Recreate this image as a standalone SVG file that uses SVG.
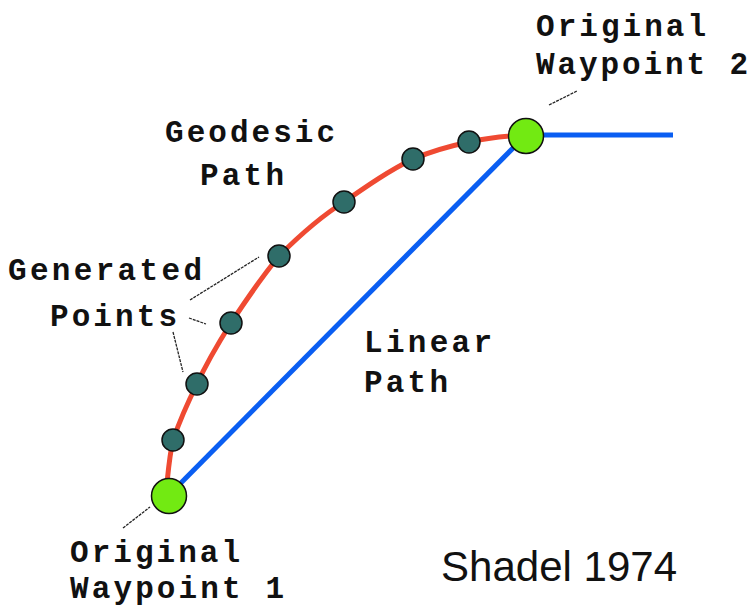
<svg xmlns="http://www.w3.org/2000/svg" width="754" height="608" viewBox="0 0 754 608">
<style>
.lbl{font-family:"Liberation Mono","Courier New",monospace;font-weight:bold;font-size:31px;fill:#111}
.lead{stroke:#222;stroke-width:1.3;fill:none;stroke-dasharray:3 1}
.wp{fill:#72ea12;stroke:#111;stroke-width:1.5}
.gp{fill:#2f6d69;stroke:#111;stroke-width:1.5}
.blue{stroke:#0a5ef2;stroke-width:5;fill:none;stroke-linecap:butt}
.red{stroke:#ef4a32;stroke-width:5;fill:none;stroke-linejoin:round}
</style>
<rect width="754" height="608" fill="#fff"/>
<g id="connectors">
<path class="blue" d="M526 135 H673"/>
<path class="blue" d="M169 495 L526 135"/>
<path class="red" d="M166 492 C168 475 169 458 173 440 C180 420 188 402 197 384 C207 362 219 342 231 323 C246 300 262 277 279 256 C299 236 320 217 344 202 C367 186 390 170 413 159 C432 151 450 146 469 142 C488 138 507 136 526 135"/>
<path class="lead" d="M549 105 L577 91"/>
<path class="lead" d="M123 528 L150 507"/>
<path class="lead" d="M190 300 L259 257"/>
<path class="lead" d="M189 318 L206 324"/>
<path class="lead" d="M173 332 L183 372"/>
</g>
<g id="gen-points">
<circle class="gp" cx="173" cy="440" r="11"/>
<circle class="gp" cx="197" cy="384" r="11"/>
<circle class="gp" cx="231" cy="323" r="11"/>
<circle class="gp" cx="279" cy="256" r="11"/>
<circle class="gp" cx="344" cy="202" r="11"/>
<circle class="gp" cx="413" cy="159" r="11"/>
<circle class="gp" cx="469" cy="142" r="11"/>
</g>
<g id="waypoint1">
<circle class="wp" cx="169" cy="496" r="17.5"/>
<text class="lbl" x="70" y="562" textLength="170" lengthAdjust="spacing">Original</text>
<text class="lbl" x="70" y="598" textLength="214" lengthAdjust="spacing">Waypoint 1</text>
</g>
<g id="waypoint2">
<circle class="wp" cx="526" cy="136" r="17.5"/>
<text class="lbl" x="536" y="36" textLength="170" lengthAdjust="spacing">Original</text>
<text class="lbl" x="536" y="74" textLength="212" lengthAdjust="spacing">Waypoint 2</text>
</g>
<g id="geodesic-label">
<text class="lbl" x="165" y="142" textLength="170" lengthAdjust="spacing">Geodesic</text>
<text class="lbl" x="200" y="185" textLength="84" lengthAdjust="spacing">Path</text>
</g>
<g id="generated-label">
<text class="lbl" x="8" y="280" textLength="194" lengthAdjust="spacing">Generated</text>
<text class="lbl" x="50" y="326" textLength="127" lengthAdjust="spacing">Points</text>
</g>
<g id="linear-label">
<text class="lbl" x="364" y="352" textLength="128" lengthAdjust="spacing">Linear</text>
<text class="lbl" x="364" y="392" textLength="84" lengthAdjust="spacing">Path</text>
</g>
<text x="441" y="581" font-family="'Liberation Sans', Arial, sans-serif" font-size="43" fill="#111" textLength="236" lengthAdjust="spacingAndGlyphs">Shadel 1974</text>
</svg>
